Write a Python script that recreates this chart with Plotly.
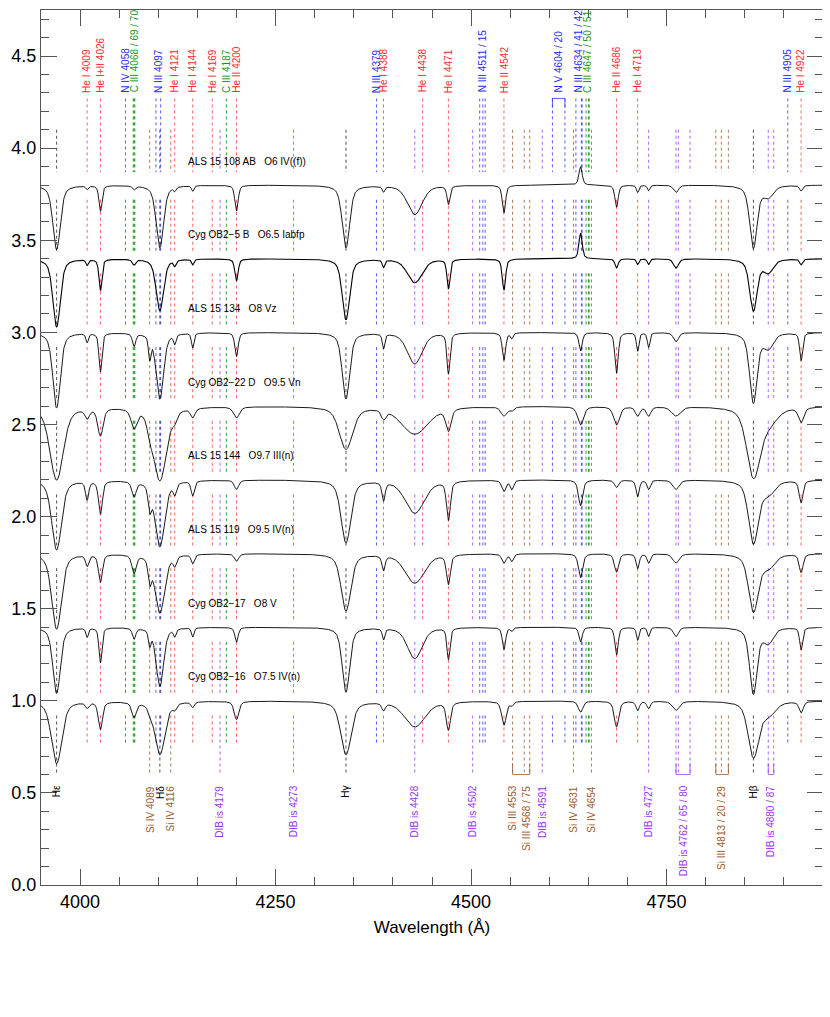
import numpy as np
import plotly.graph_objects as go

# spectra: continuum level, name, broadening factor
continua = [3.8, 3.4, 3.0, 2.6, 2.2, 1.8, 1.4, 1.0]
star_names = ["ALS 15 108 AB   O6 IV((f))", "Cyg OB2\u22125 B   O6.5 Iabfp",
              "ALS 15 134   O8 Vz", "Cyg OB2\u221222 D   O9.5 Vn",
              "ALS 15 144   O9.7 III(n)", "ALS 15 119   O9.5 IV(n)",
              "Cyg OB2\u221217   O8 V", "Cyg OB2\u221216   O7.5 IV(n)"]
broadening = [1.0, 1.0, 1.0, 1.8, 1.3, 1.3, 1.0, 1.4]

# absorption lines in the spectra (negative depth = emission)
line_center = [3970, 4009, 4026, 4069, 4089, 4102, 4121, 4144, 4200, 4340, 4388, 4428,
               4471, 4542, 4552, 4640, 4686, 4713, 4727, 4762, 4861, 4880, 4922]
line_width = [4.5, 1.5, 1.8, 2.0, 1.5, 4.5, 1.5, 1.5, 2.0, 4.5, 1.5, 9.0,
              1.8, 2.0, 1.5, 2.0, 2.0, 1.5, 1.5, 3.0, 4.5, 6.0, 1.8]
depths = [
    [0.35, 0.02, 0.14, 0.02, 0.00, 0.34, 0.02, 0.03, 0.14, 0.34, 0.03, 0.16, 0.10, 0.15, 0.00, -0.10, 0.12, 0.04, 0.03, 0.04, 0.34, 0.06, 0.03],
    [0.37, 0.03, 0.17, 0.03, 0.00, 0.28, 0.03, 0.03, 0.12, 0.33, 0.04, 0.13, 0.16, 0.17, 0.00, -0.14, 0.05, 0.03, 0.03, 0.05, 0.28, 0.07, 0.03],
    [0.41, 0.05, 0.21, 0.07, 0.12, 0.36, 0.05, 0.08, 0.13, 0.36, 0.08, 0.17, 0.22, 0.15, 0.03, 0.10, 0.22, 0.10, 0.08, 0.05, 0.38, 0.08, 0.15],
    [0.40, 0.05, 0.15, 0.10, 0.06, 0.40, 0.04, 0.05, 0.06, 0.23, 0.05, 0.15, 0.12, 0.05, 0.02, 0.10, 0.10, 0.05, 0.05, 0.05, 0.37, 0.08, 0.08],
    [0.38, 0.10, 0.18, 0.08, 0.12, 0.36, 0.06, 0.08, 0.05, 0.34, 0.10, 0.18, 0.21, 0.06, 0.05, 0.14, 0.04, 0.09, 0.05, 0.05, 0.34, 0.07, 0.12],
    [0.41, 0.06, 0.15, 0.10, 0.12, 0.32, 0.05, 0.05, 0.04, 0.31, 0.08, 0.16, 0.16, 0.05, 0.04, 0.13, 0.10, 0.08, 0.05, 0.05, 0.31, 0.07, 0.10],
    [0.36, 0.05, 0.19, 0.06, 0.08, 0.32, 0.04, 0.05, 0.08, 0.35, 0.06, 0.17, 0.17, 0.12, 0.02, 0.08, 0.15, 0.07, 0.05, 0.05, 0.36, 0.08, 0.12],
    [0.34, 0.03, 0.15, 0.08, 0.03, 0.29, 0.03, 0.03, 0.10, 0.29, 0.04, 0.14, 0.15, 0.13, 0.02, 0.06, 0.14, 0.05, 0.04, 0.05, 0.30, 0.07, 0.06],
]

# line identifications, upper group
top_ids = [
    ("He I 4009", [4009], 4009, "red"), ("He I+II 4026", [4026], 4026, "red"),
    ("N IV 4058", [4058], 4058, "blue"), ("C III 4068 / 69 / 70", [4068, 4069, 4070], 4069, "green"),
    ("N III 4097", [4097, 4103], 4100, "blue"), ("He I 4121", [4121], 4121, "red"),
    ("He I 4144", [4144], 4144, "red"), ("He I 4169", [4169], 4169, "red"),
    ("C III 4187", [4187], 4187, "green"), ("He II 4200", [4200], 4200, "red"),
    ("N III 4379", [4379], 4379, "blue"), ("He I 4388", [4388], 4388, "red"),
    ("He I 4438", [4438], 4438, "red"), ("He I 4471", [4471], 4471, "red"),
    ("N III 4511 / 15", [4511, 4515, 4518], 4514, "blue"), ("He II 4542", [4542], 4542, "red"),
    ("N V 4604 / 20", [4604, 4620], 4612, "blue"),
    ("N III 4634 / 41 / 42", [4634, 4641, 4642], 4637, "blue"),
    ("C III 4647 / 50 / 51", [4647, 4650, 4651], 4648, "green"),
    ("He II 4686", [4686], 4686, "red"), ("He I 4713", [4713], 4713, "red"),
    ("N III 4905", [4905], 4905, "blue"), ("He I 4922", [4922], 4922, "red"),
]
# lower group
bottom_ids = [
    ("H\u03b5", [3970], 3970, "black"), ("Si IV 4089", [4089], 4089, "brown"),
    ("H\u03b4", [4102], 4102, "black"), ("Si IV 4116", [4116], 4116, "brown"),
    ("DIB is 4179", [4179], 4179, "purple"), ("DIB is 4273", [4273], 4273, "purple"),
    ("H\u03b3", [4340], 4340, "black"), ("DIB is 4428", [4428], 4428, "purple"),
    ("DIB is 4502", [4502], 4502, "purple"), ("Si III 4553", [4553], 4553, "brown"),
    ("Si III 4568 / 75", [4568, 4575], 4571, "brown"), ("DIB is 4591", [4591], 4591, "purple"),
    ("Si IV 4631", [4631], 4631, "brown"), ("Si IV 4654", [4654], 4654, "brown"),
    ("DIB is 4727", [4727], 4727, "purple"), ("DIB is 4762 / 65 / 80", [4762, 4765, 4780], 4771, "purple"),
    ("Si III 4813 / 20 / 29", [4813, 4820, 4829], 4820, "brown"),
    ("H\u03b2", [4861], 4861, "black"), ("DIB is 4880 / 87", [4880, 4887], 4883, "purple"),
]
brackets_bottom = [([4553, 4575], "brown"), ([4762, 4780], "purple"),
                   ([4813, 4829], "brown"), ([4880, 4887], "purple")]

text_col = {"red": "#ff2a2a", "blue": "#2a2aff", "green": "#1a961a",
            "brown": "#a0582a", "purple": "#9a30ff", "black": "#000000"}
line_col = {"red": "rgba(255,60,60,0.8)", "blue": "rgba(50,50,255,0.8)", "green": "rgba(20,150,20,0.9)",
            "brown": "rgba(160,90,45,0.8)", "purple": "rgba(160,60,255,0.8)", "black": "rgba(0,0,0,0.7)"}

wl = np.arange(3950, 4950.5, 0.5)
fig = go.Figure()

# dotted identification segments between the spectra
def segments(ws, top_start, last_end):
    spans = [(top_start, continua[0] + 0.07)]
    for i, c in enumerate(continua):
        lo = c - 0.36 if i < len(continua) - 1 else last_end
        spans.append((c - 0.08, lo))
    xs, ys = [], []
    for w in ws:
        for a, b in spans:
            xs += [w, w, None]
            ys += [a, b, None]
    return xs, ys

for ids, top_start, last_end in [(top_ids, 4.27, 0.77), (bottom_ids, 4.1, 0.6)]:
    for col in text_col:
        ws = [w for _, lst, _, c in ids if c == col for w in lst]
        if not ws:
            continue
        xs, ys = segments(ws, top_start, last_end)
        fig.add_trace(go.Scatter(x=xs, y=ys, mode="lines", hoverinfo="skip",
                                 line=dict(color=line_col[col], width=1, dash="dot")))

for (a, b), col in brackets_bottom:
    fig.add_trace(go.Scatter(x=[a, a, b, b], y=[0.66, 0.6, 0.6, 0.66], mode="lines",
                             line=dict(color=line_col[col], width=1), hoverinfo="skip"))
fig.add_trace(go.Scatter(x=[4604, 4604, 4620, 4620], y=[4.22, 4.27, 4.27, 4.22], mode="lines",
                         line=dict(color=line_col["blue"], width=1), hoverinfo="skip"))

# spectra
for k, c in enumerate(continua):
    flux = np.full_like(wl, c)
    for lc, lw, d in zip(line_center, line_width, depths[k]):
        s = lw * broadening[k]
        prof = 0.6 * np.exp(-0.5 * ((wl - lc) / s) ** 2) + 0.4 / (1 + ((wl - lc) / (1.5 * s)) ** 2)
        flux = flux - d * prof
    fig.add_trace(go.Scatter(x=wl, y=flux, mode="lines", hoverinfo="skip",
                             line=dict(color="black", width=1.1 if k == 1 else 0.9)))
    fig.add_annotation(x=4136, y=c + 0.13, text=star_names[k], showarrow=False,
                       xanchor="left", yanchor="middle", font=dict(size=10, color="black"))

for label, _, xl, col in top_ids:
    fig.add_annotation(x=xl, y=4.29, text=label, textangle=-90, showarrow=False,
                       xanchor="center", yanchor="bottom", font=dict(size=10, color=text_col[col]))
for label, _, xl, col in bottom_ids:
    fig.add_annotation(x=xl, y=0.55, text=label, textangle=-90, showarrow=False,
                       xanchor="center", yanchor="top", font=dict(size=10, color=text_col[col]))

axis_common = dict(showgrid=False, zeroline=False, ticks="inside", mirror="allticks",
                   showline=True, linecolor="#555", linewidth=1, tickcolor="#555",
                   ticklen=16, tickfont=dict(size=18, color="black"), automargin=False)
# page body adds an 8 px offset, so the figure is sized to fit the window
fig.update_layout(
    width=822, height=1009, showlegend=False,
    plot_bgcolor="white", paper_bgcolor="white",
    font=dict(family="Liberation Sans, Arial, sans-serif"),
    margin=dict(l=33, r=7, t=2, b=132),
    xaxis=dict(range=[3950, 4950], tickvals=[4000, 4250, 4500, 4750],
               minor=dict(dtick=50, tick0=4000, ticklen=8, ticks="inside", tickcolor="#555"),
               title=dict(text="Wavelength (\u00c5)", font=dict(size=17, color="black"), standoff=10),
               **axis_common),
    yaxis=dict(range=[0, 4.75], tickvals=[0, 0.5, 1, 1.5, 2, 2.5, 3, 3.5, 4, 4.5],
               ticktext=["0.0", "0.5", "1.0", "1.5", "2.0", "2.5", "3.0", "3.5", "4.0", "4.5"],
               minor=dict(dtick=0.1, ticklen=8, ticks="inside", tickcolor="#555"),
               **axis_common),
)
fig.write_html("out.html")
